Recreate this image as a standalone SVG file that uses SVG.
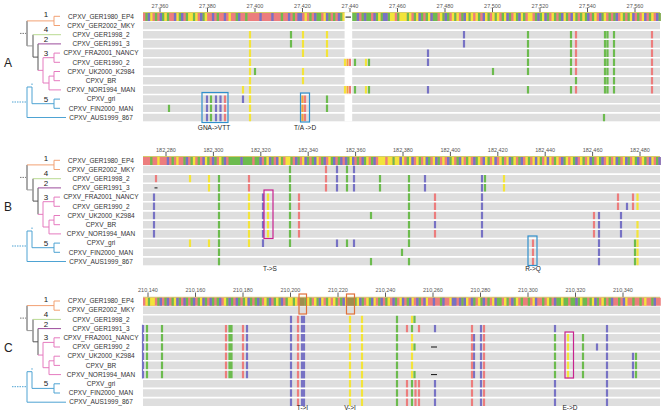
<svg xmlns="http://www.w3.org/2000/svg" xmlns:xlink="http://www.w3.org/1999/xlink" width="662" height="415" viewBox="0 0 662 415">
<style>
text{font-family:"Liberation Sans",Arial,sans-serif}
.lab{font-size:6.5px;fill:#333;text-anchor:middle}
.rul{font-size:5.5px;fill:#555;text-anchor:middle}
.num{font-size:8px;fill:#222;text-anchor:middle}
.pl{font-size:12px;fill:#222}
.ann{font-size:6.5px;fill:#222;text-anchor:middle}
.r{stroke:#ec7d7d;fill:none}.g{stroke:#6cbb4e;fill:none}.y{stroke:#f3e43a;fill:none}.b{stroke:#7772c4;fill:none}.o{stroke:#f2a43c;fill:none}.ol{stroke:#9e8f4e;fill:none}
.bar path{stroke-width:8}
.mk path{stroke-width:2.2}
.tick{stroke:#333;stroke-width:0.8;fill:none}
.top{stroke:#c8c048;stroke-width:0.9}
.rows{fill:#dedede}
.sep{stroke:#fff;stroke-width:1.6;fill:none}
.dash{stroke:#111;stroke-width:1;fill:none}
.bx{fill:none;stroke:#2f8fcc;stroke-width:1.2}
.bm{fill:none;stroke:#c8228f;stroke-width:1.2}
.bo{fill:none;stroke:#e0703a;stroke-width:1.2}
</style>
<defs>
<g id="tree" fill="none" stroke-width="1">
<path stroke="#555" d="M27 20.9V45.9M33 34.7V57.1M33 57.1H38M38 43.9V70.35"/>
<path stroke="#999" d="M27 45.9H33"/>
<path stroke="#777" stroke-dasharray="1.5 1" d="M20 33.4H26"/>
<path stroke="#f2a173" d="M27 20.9H54M54 16.3V25.5M54 16.3H60M54 25.5H60"/>
<path stroke="#b9da92" d="M33 34.7H61"/>
<path stroke="#9b4c9b" d="M38 43.9H61"/>
<path stroke="#e57bbf" d="M38 70.35H43M43 57.7V83M43 57.7H54M54 53.1V62.3M54 53.1H60M54 62.3H60M43 83H49M49 76.1V89.9M49 76.1H54M54 71.5V80.7M54 71.5H60M54 80.7H60M49 89.9H61"/>
<path stroke="#4ea3d3" d="M27 87V117.5M27 87H32M32 87V103.7M32 103.7H54M54 99.1V108.3M54 99.1H60M54 108.3H60M27 117.5H66"/>
<path stroke="#4ea3d3" stroke-dasharray="1.5 1" d="M12 102H26M32 83.5V86"/>
</g>
<path id="seps" d="M143 30.1H660M143 39.3H660M143 48.5H660M143 57.7H660M143 66.9H660M143 76.1H660M143 85.3H660M143 94.5H660M143 103.7H660M143 112.9H660"/>
</defs>

<!-- Panel A -->
<g id="panelA">
<text class="pl" x="4" y="67">A</text>
<use href="#tree"/>
<g id="numsA">
<text class="num" x="46" y="17.3">1</text><text class="num" x="46" y="32.3">4</text><text class="num" x="46" y="42.3">2</text><text class="num" x="46" y="55.7">3</text><text class="num" x="46" y="101.5">5</text>
</g>
<g id="labelsA">
<text class="lab" x="101" y="18.6">CPXV_GER1980_EP4</text>
<text class="lab" x="101" y="27.8">CPXV_GER2002_MKY</text>
<text class="lab" x="101" y="37">CPXV_GER1998_2</text>
<text class="lab" x="101" y="46.2">CPXV_GER1991_3</text>
<text class="lab" x="101" y="55.4">CPXV_FRA2001_NANCY</text>
<text class="lab" x="101" y="64.6">CPXV_GER1990_2</text>
<text class="lab" x="101" y="73.8">CPXV_UK2000_K2984</text>
<text class="lab" x="101" y="83">CPXV_BR</text>
<text class="lab" x="101" y="92.2">CPXV_NOR1994_MAN</text>
<text class="lab" x="101" y="101.4">CPXV_gri</text>
<text class="lab" x="101" y="110.6">CPXV_FIN2000_MAN</text>
<text class="lab" x="101" y="119.8">CPXV_AUS1999_867</text>
</g>
<g id="rulerA">
<text class="rul" x="160" y="7.5">27,360</text><text class="rul" x="207.5" y="7.5">27,380</text><text class="rul" x="255" y="7.5">27,400</text><text class="rul" x="302.5" y="7.5">27,420</text><text class="rul" x="350" y="7.5">27,440</text><text class="rul" x="397.5" y="7.5">27,460</text><text class="rul" x="445" y="7.5">27,480</text><text class="rul" x="492.5" y="7.5">27,500</text><text class="rul" x="540" y="7.5">27,520</text><text class="rul" x="587.5" y="7.5">27,540</text><text class="rul" x="635" y="7.5">27,560</text>
<path class="tick" d="M160 8V12.3M207.5 8V12.3M255 8V12.3M302.5 8V12.3M350 8V12.3M397.5 8V12.3M445 8V12.3M492.5 8V12.3M540 8V12.3M587.5 8V12.3M635 8V12.3"/>
<path class="top" d="M143 12.6H660"/>
</g>
<g class="bar" transform="translate(143,17.1) scale(2.375,1)">
<path class="r" d="M0 0h218"/>
<path class="g" d="M1 0h1M5 0h1M8 0h1M10 0h1M15 0h1M18 0h1M21 0h1M25 0h1M31 0h1M39 0h1M43 0h1M58 0h1M63 0h1M70 0h1M73 0h2M78 0h1M80 0h1M83 0h1M88 0h2M92 0h1M94 0h2M98 0h1M100 0h1M103 0h1M107 0h1M111 0h1M114 0h1M117 0h1M119 0h1M122 0h2M126 0h1M128 0h1M131 0h1M134 0h1M137 0h1M141 0h1M145 0h1M148 0h1M151 0h1M154 0h1M157 0h1M160 0h1M165 0h1M167 0h1M170 0h1M173 0h1M175 0h1M178 0h1M182 0h1M184 0h1M186 0h1M189 0h1M193 0h1M196 0h1M198 0h1M202 0h1M204 0h1M208 0h1M213 0h1M217 0h1"/>
<path class="y" d="M3 0h1M9 0h1M14 0h1M19 0h2M22 0h1M26 0h1M36 0h1M68 0h1M76 0h1M84 0h1M99 0h1M104 0h2M108 0h3M112 0h1M115 0h1M120 0h1M125 0h1M130 0h1M132 0h1M136 0h1M138 0h1M140 0h1M144 0h1M147 0h1M149 0h1M152 0h1M156 0h1M159 0h1M162 0h2M168 0h1M172 0h1M177 0h1M181 0h1M185 0h1M190 0h1M194 0h1M201 0h1M205 0h1M210 0h1M214 0h1"/>
<path class="b" d="M2 0h1M7 0h1M13 0h1M16 0h1M24 0h1M29 0h1M34 0h1M40 0h1M49 0h1M54 0h1M61 0h1M65 0h2M72 0h1M77 0h1M82 0h1M90 0h1M93 0h1M97 0h1M101 0h2M116 0h1M121 0h1M127 0h1M135 0h1M143 0h1M153 0h1M158 0h1M166 0h1M169 0h1M176 0h1M180 0h1M187 0h1M192 0h1M199 0h1M206 0h1M211 0h1M216 0h1"/>
</g>
<rect class="rows" x="143" y="21.7" width="517" height="99.6"/>
<rect x="344.6" y="12.2" width="7.6" height="109.2" fill="#fff"/>
<path class="dash" d="M345.5 17.1H351"/>
<g class="mk" id="marksA">
<path class="g" d="M169 104.5V112.1M211 95.3V121.3M255 67.7V75.3M291 30.9V47.7M327 95.3V112.1M355 58.5V66.1M355 86.1V93.7M369 58.5V66.1M369 86.1V93.7M493 67.7V75.3M528 30.9V75.3M528 86.1V93.7M571 30.9V75.3M571 86.1V93.7M576 76.9V84.5M605 30.9V93.7M607.5 30.9V93.7M614 30.9V93.7M604 113.7V121.3"/>
<path class="y" d="M243 86.1V93.7M250 30.9V121.3M303 30.9V56.9M303 67.7V84.5M327 30.9V56.9M345 58.5V66.1M345 86.1V93.7M366 58.5V66.1M366 86.1V93.7"/>
<path class="o" d="M302.5 95.3V121.3M347.5 58.5V66.1M347.5 86.1V93.7"/>
<path class="r" d="M225 95.3V121.3M305 95.3V121.3M350 58.5V66.1M350 86.1V93.7M576 30.9V75.3M576 86.1V93.7M652 30.9V93.7"/>
<path class="b" d="M207 95.3V121.3M216 95.3V121.3M220.5 95.3V121.3M243 95.3V102.9M428 49.3V66.1M428 86.1V93.7M464 30.9V47.7"/>
</g>
<use href="#seps" class="sep"/>
<g id="boxesA">
<rect class="bx" x="202" y="92.5" width="26" height="30"/>
<rect class="bx" x="300.5" y="93" width="9" height="29"/>
</g>
<text class="ann" x="214" y="130">GNA-&gt;VTT</text>
<text class="ann" x="305" y="129.5">T/A -&gt;D</text>
</g>

<!-- Panel B -->
<g id="panelB" transform="translate(0,144)">
<text class="pl" x="4" y="67">B</text>
<use href="#tree"/>
<g id="numsB">
<text class="num" x="46" y="17.3">1</text><text class="num" x="46" y="32.3">4</text><text class="num" x="46" y="42.3">2</text><text class="num" x="46" y="55.7">3</text><text class="num" x="46" y="101.5">5</text>
</g>
<g id="labelsB">
<text class="lab" x="101" y="18.6">CPXV_GER1980_EP4</text>
<text class="lab" x="101" y="27.8">CPXV_GER2002_MKY</text>
<text class="lab" x="101" y="37">CPXV_GER1998_2</text>
<text class="lab" x="101" y="46.2">CPXV_GER1991_3</text>
<text class="lab" x="101" y="55.4">CPXV_FRA2001_NANCY</text>
<text class="lab" x="101" y="64.6">CPXV_GER1990_2</text>
<text class="lab" x="101" y="73.8">CPXV_UK2000_K2984</text>
<text class="lab" x="101" y="83">CPXV_BR</text>
<text class="lab" x="101" y="92.2">CPXV_NOR1994_MAN</text>
<text class="lab" x="101" y="101.4">CPXV_gri</text>
<text class="lab" x="101" y="110.6">CPXV_FIN2000_MAN</text>
<text class="lab" x="101" y="119.8">CPXV_AUS1999_867</text>
</g>
<g id="rulerB">
<text class="rul" x="166" y="7.5">182,280</text><text class="rul" x="213.4" y="7.5">182,300</text><text class="rul" x="260.8" y="7.5">182,320</text><text class="rul" x="308.2" y="7.5">182,340</text><text class="rul" x="355.6" y="7.5">182,360</text><text class="rul" x="403" y="7.5">182,380</text><text class="rul" x="450.4" y="7.5">182,400</text><text class="rul" x="497.8" y="7.5">182,420</text><text class="rul" x="545.2" y="7.5">182,440</text><text class="rul" x="592.6" y="7.5">182,460</text><text class="rul" x="640" y="7.5">182,480</text>
<path class="tick" d="M166 8V12.3M213.4 8V12.3M260.8 8V12.3M308.2 8V12.3M355.6 8V12.3M403 8V12.3M450.4 8V12.3M497.8 8V12.3M545.2 8V12.3M592.6 8V12.3M640 8V12.3"/>
<path class="top" d="M143 12.6H660"/>
</g>
<g class="bar" transform="translate(143,17.1) scale(2.375,1)">
<path class="r" d="M0 0h218"/>
<path class="g" d="M3 0h1M12 0h1M17 0h1M20 0h1M23 0h1M27 0h1M30 0h1M33 0h1M36 0h5M42 0h4M47 0h2M51 0h1M54 0h1M58 0h1M62 0h1M65 0h1M69 0h1M71 0h1M75 0h1M79 0h1M82 0h1M86 0h1M90 0h1M93 0h1M96 0h1M105 0h1M111 0h1M116 0h1M120 0h1M124 0h1M129 0h1M132 0h1M136 0h1M140 0h1M145 0h1M151 0h1M155 0h1M158 0h1M162 0h1M167 0h1M173 0h1M177 0h1M181 0h1M185 0h1M189 0h1M192 0h1M196 0h1M200 0h1M204 0h1M207 0h1M211 0h1M216 0h1"/>
<path class="y" d="M6 0h1M14 0h1M21 0h1M26 0h1M32 0h1M52 0h1M57 0h1M60 0h2M67 0h1M73 0h1M78 0h1M87 0h1M94 0h1M99 0h3M103 0h2M106 0h2M109 0h1M112 0h1M115 0h1M118 0h1M122 0h1M126 0h1M130 0h1M134 0h1M137 0h1M141 0h1M144 0h1M147 0h1M150 0h1M153 0h1M156 0h1M161 0h1M164 0h1M166 0h1M169 0h1M171 0h1M174 0h1M178 0h1M180 0h1M184 0h1M187 0h1M191 0h1M195 0h1M198 0h1M202 0h1M206 0h1M210 0h1M214 0h1"/>
<path class="b" d="M10 0h1M18 0h1M25 0h1M29 0h1M34 0h1M41 0h1M49 0h1M53 0h1M56 0h1M64 0h1M68 0h1M72 0h1M76 0h1M80 0h1M83 0h1M85 0h1M88 0h1M92 0h1M97 0h1M108 0h1M113 0h1M119 0h1M123 0h1M128 0h1M133 0h1M139 0h1M143 0h1M148 0h1M154 0h1M159 0h1M165 0h1M170 0h1M176 0h1M182 0h1M188 0h1M193 0h1M199 0h1M203 0h1M208 0h1M213 0h1M217 0h1"/>
</g>
<rect class="rows" x="143" y="21.7" width="517" height="99.6"/>
<g class="mk" id="marksB">
<path class="r" d="M156 30.9V38.5M249 30.9V47.7M299 49.3V93.7M326 21.7V47.7M435 49.3V75.3M435 86.1V93.7M533 95.3V121.3M594 67.7V93.7M618 49.3V66.1M633 49.3V66.1"/>
<path class="b" d="M154 49.3V93.7M263 49.3V102.9M337 21.7V47.7M337 95.3V102.9M354 21.7V47.7M354 95.3V102.9M425 30.9V47.7M435 76.9V84.5M482 30.9V93.7M599 67.7V121.3M621 67.7V93.7M627 58.5V66.1"/>
<path class="y" d="M190 30.9V38.5M190 95.3V102.9M209 30.9V47.7M209 95.3V102.9M249 49.3V102.9M268 49.3V93.7M504 30.9V47.7M637.5 49.3V66.1M637.5 76.9V121.3"/>
<path class="g" d="M219 30.9V121.3M290 21.7V102.9M347 21.7V47.7M347 95.3V102.9M371 67.7V75.3M371 113.7V121.3M380 30.9V47.7M402 104.5V112.1M409 30.9V102.9M409 113.7V121.3M485 30.9V47.7M635 95.3V121.3"/>
</g>
<path class="dash" d="M154.5 43.9H157.5"/>
<use href="#seps" class="sep"/>
<g id="boxesB">
<rect class="bm" x="264" y="46" width="9" height="48.5"/>
<rect class="bx" x="528" y="92" width="9" height="29.5"/>
</g>
<text class="ann" x="270" y="126.5">T-&gt;S</text>
<text class="ann" x="533" y="126.5">R-&gt;Q</text>
</g>

<!-- Panel C -->
<g id="panelC" transform="translate(0,284.7)">
<text class="pl" x="4" y="67">C</text>
<use href="#tree"/>
<g id="numsC">
<text class="num" x="46" y="17.3">1</text><text class="num" x="46" y="32.3">4</text><text class="num" x="46" y="42.3">2</text><text class="num" x="46" y="55.7">3</text><text class="num" x="46" y="101.5">5</text>
</g>
<g id="labelsC">
<text class="lab" x="101" y="18.6">CPXV_GER1980_EP4</text>
<text class="lab" x="101" y="27.8">CPXV_GER2002_MKY</text>
<text class="lab" x="101" y="37">CPXV_GER1998_2</text>
<text class="lab" x="101" y="46.2">CPXV_GER1991_3</text>
<text class="lab" x="101" y="55.4">CPXV_FRA2001_NANCY</text>
<text class="lab" x="101" y="64.6">CPXV_GER1990_2</text>
<text class="lab" x="101" y="73.8">CPXV_UK2000_K2984</text>
<text class="lab" x="101" y="83">CPXV_BR</text>
<text class="lab" x="101" y="92.2">CPXV_NOR1994_MAN</text>
<text class="lab" x="101" y="101.4">CPXV_gri</text>
<text class="lab" x="101" y="110.6">CPXV_FIN2000_MAN</text>
<text class="lab" x="101" y="119.8">CPXV_AUS1999_867</text>
</g>
<g id="rulerC">
<text class="rul" x="148" y="7.5">210,140</text><text class="rul" x="195.5" y="7.5">210,160</text><text class="rul" x="243" y="7.5">210,180</text><text class="rul" x="290.5" y="7.5">210,200</text><text class="rul" x="338" y="7.5">210,220</text><text class="rul" x="385.5" y="7.5">210,240</text><text class="rul" x="433" y="7.5">210,260</text><text class="rul" x="480.5" y="7.5">210,280</text><text class="rul" x="528" y="7.5">210,300</text><text class="rul" x="575.5" y="7.5">210,320</text><text class="rul" x="623" y="7.5">210,340</text>
<path class="tick" d="M148 8V12.3M195.5 8V12.3M243 8V12.3M290.5 8V12.3M338 8V12.3M385.5 8V12.3M433 8V12.3M480.5 8V12.3M528 8V12.3M575.5 8V12.3M623 8V12.3"/>
<path class="top" d="M143 12.6H660"/>
</g>
<g class="bar" transform="translate(143,17.1) scale(2.375,1)">
<path class="r" d="M0 0h218"/>
<path class="g" d="M2 0h1M6 0h1M9 0h1M12 0h1M15 0h1M18 0h1M20 0h1M23 0h1M26 0h1M29 0h1M31 0h1M35 0h1M37 0h1M40 0h1M42 0h1M45 0h1M47 0h1M49 0h1M52 0h1M55 0h1M57 0h1M60 0h1M63 0h1M68 0h1M70 0h1M73 0h1M77 0h1M81 0h1M83 0h1M89 0h1M92 0h1M95 0h1M99 0h1M102 0h1M106 0h1M111 0h1M116 0h1M125 0h1M134 0h1M139 0h1M142 0h1M145 0h1M149 0h2M153 0h1M156 0h1M159 0h1M162 0h1M168 0h1M171 0h1M174 0h2M177 0h2M180 0h2M183 0h1M185 0h2M188 0h1M191 0h1M194 0h1M196 0h1M200 0h1M206 0h1M209 0h1M214 0h1"/>
<path class="y" d="M1 0h1M3 0h2M13 0h1M24 0h1M34 0h1M43 0h1M51 0h1M56 0h1M61 0h2M64 0h1M69 0h1M72 0h1M75 0h1M78 0h1M80 0h1M85 0h1M90 0h1M94 0h1M97 0h1M103 0h1M108 0h1M113 0h1M119 0h1M129 0h1M136 0h1M141 0h1M147 0h1M152 0h1M157 0h1M164 0h1M170 0h1M176 0h1M184 0h1M189 0h1M193 0h1M203 0h1M211 0h1"/>
<path class="b" d="M7 0h1M10 0h1M14 0h1M17 0h1M21 0h1M25 0h1M28 0h1M32 0h1M36 0h1M39 0h1M44 0h1M48 0h1M53 0h1M58 0h1M74 0h1M84 0h1M91 0h1M96 0h1M100 0h1M105 0h1M109 0h1M112 0h1M115 0h1M118 0h1M122 0h1M126 0h1M130 0h2M133 0h1M135 0h1M138 0h1M143 0h1M148 0h1M155 0h1M165 0h1M173 0h1M182 0h1M190 0h1M197 0h1M202 0h1M215 0h1"/>
<path class="ol" d="M66 0h2M86 0h3"/>
</g>
<rect class="rows" x="143" y="21.7" width="517" height="99.6"/>
<g class="mk" id="marksC">
<path class="b" d="M143 40.1V93.7M247 40.1V93.7M291 30.9V121.3M302 30.9V121.3M304 30.9V121.3M435 40.1V47.7M435 95.3V121.3M474 49.3V93.7M481 40.1V121.3M555 40.1V47.7M555 95.3V121.3M597 58.5V66.1M607 40.1V121.3M633 67.7V93.7"/>
<path class="y" d="M350 30.9V121.3M362 30.9V121.3M412 30.9V38.5M412 49.3V93.7M568 49.3V93.7"/>
<path class="g" d="M147 40.1V93.7M162 40.1V93.7M229.5 40.1V93.7M231.5 40.1V93.7M397 30.9V121.3M414.5 30.9V38.5M414.5 58.5V66.1M414.5 86.1V93.7M412 40.1V47.7M412 95.3V121.3M555 49.3V93.7M583 49.3V93.7M636 67.7V93.7"/>
<path class="r" d="M226 40.1V93.7M243 40.1V93.7M298 30.9V121.3M407 40.1V47.7M407 95.3V121.3M415.5 95.3V121.3M419 40.1V47.7M419 95.3V121.3M472 40.1V121.3M484 40.1V121.3"/>
</g>
<path class="dash" d="M431 62.3H437M431 89.9H437"/>
<use href="#seps" class="sep"/>
<g id="boxesC">
<rect class="bo" x="299" y="9.3" width="7.5" height="20"/>
<rect class="bo" x="346.5" y="9.3" width="8" height="20"/>
<rect class="bm" x="565" y="47.3" width="8.5" height="46"/>
</g>
<text class="ann" x="302.5" y="125.8">T-&gt;I</text>
<text class="ann" x="350" y="125.8">V-&gt;I</text>
<text class="ann" x="570" y="125.8">E-&gt;D</text>
</g>
</svg>
